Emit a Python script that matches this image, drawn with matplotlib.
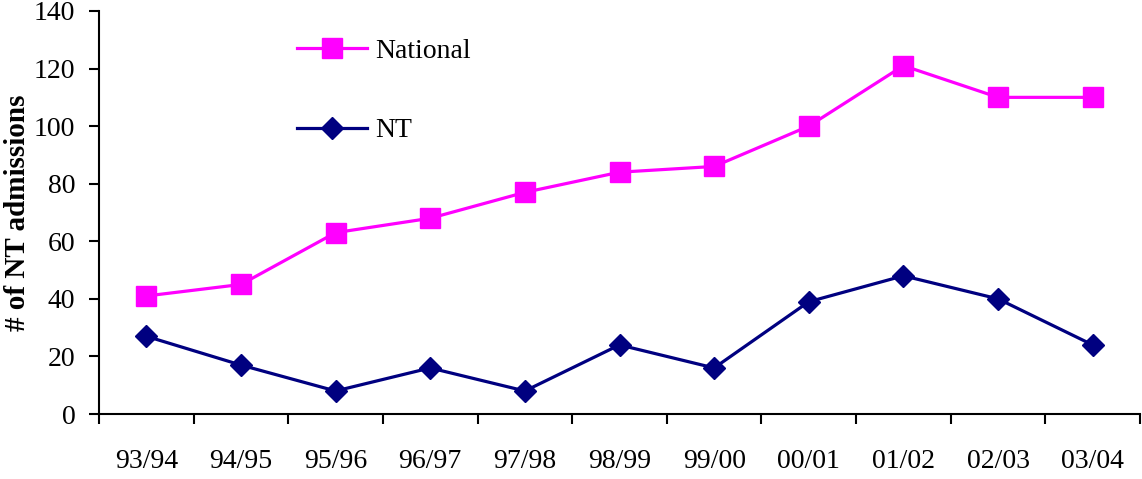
import matplotlib
matplotlib.use("Agg")
import matplotlib.pyplot as plt
from matplotlib.ticker import FixedLocator, NullFormatter

# Admissions per financial year
years = ["93/94", "94/95", "95/96", "96/97", "97/98", "98/99",
         "99/00", "00/01", "01/02", "02/03", "03/04"]
national = [41, 45, 63, 68, 77, 84, 86, 100, 121, 110, 110]
nt = [27, 17, 8, 16, 8, 24, 16, 39, 48, 40, 24]

plt.rcParams["font.family"] = ["Liberation Serif", "DejaVu Serif"]

fig = plt.figure(figsize=(11.42, 4.79), dpi=100)
ax = fig.add_axes([99 / 1142, 1 - 414 / 479, 1041 / 1142, 403 / 479])

x = list(range(len(years)))
ax.plot(x, national, color="#FF00FF", lw=2.3, marker="s", ms=15,
        label="National", clip_on=False)
ax.plot(x, nt, color="#000080", lw=2.3, marker="D", ms=11,
        label="NT", clip_on=False)

ax.set_xlim(-0.5, len(years) - 0.5)
ax.set_ylim(0, 140)
ax.set_yticks(range(0, 141, 20))

# category labels at centres, tick marks on the boundaries
ax.set_xticks(x)
ax.set_xticklabels(years)
ax.xaxis.set_minor_locator(FixedLocator([i - 0.5 for i in range(len(years) + 1)]))
ax.xaxis.set_minor_formatter(NullFormatter())
ax.tick_params(axis="x", which="major", length=0, pad=25, labelsize=20)
ax.tick_params(axis="x", which="minor", length=7, width=1.5, direction="out")
ax.tick_params(axis="y", length=7, width=1.5, direction="out", pad=10, labelsize=20)

for side in ("top", "right"):
    ax.spines[side].set_visible(False)
for side in ("left", "bottom"):
    ax.spines[side].set_linewidth(1.5)

ax.set_ylabel("# of NT admissions", fontsize=21, fontweight="bold", labelpad=2)

ax.legend(loc="upper left", bbox_to_anchor=(0.18, 0.96), frameon=False,
          fontsize=20, labelspacing=1.95, handlelength=2.5, handletextpad=0.3,
          borderaxespad=0)

fig.savefig("out.png", dpi=100)
